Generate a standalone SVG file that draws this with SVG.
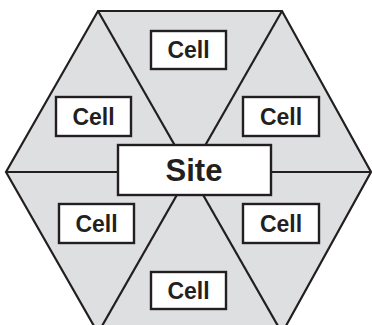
<svg xmlns="http://www.w3.org/2000/svg" width="372" height="325" viewBox="0 0 372 325">
<style>
.hex{fill:#dedfe1;stroke:#231f20;stroke-width:2.2;stroke-linejoin:miter}
.ln{stroke:#231f20;stroke-width:2.2;fill:none}
.box{fill:#fff;stroke:#231f20;stroke-width:2.4}
.t{font-family:"Liberation Sans",Arial,sans-serif;font-weight:bold;fill:#231f20;text-anchor:middle}
.c{font-size:23px}
.s{font-size:31px}
</style>
<rect width="372" height="325" fill="#fff"/>
<polygon class="hex" points="98,11 282,11 371,172 282,333 98,333 6,172"/>
<g id="connectors">
<line class="ln" x1="98" y1="11" x2="282" y2="333"/>
<line class="ln" x1="282" y1="11" x2="98" y2="333"/>
<line class="ln" x1="6" y1="172" x2="371" y2="172"/>
</g>
<g id="site"><rect class="box" x="118" y="145" width="153" height="50"/><text class="t s" x="194" y="181">Site</text></g>
<g id="cell-top"><rect class="box" x="151" y="31" width="75" height="38"/><text class="t c" x="188.5" y="58">Cell</text></g>
<g id="cell-top-left"><rect class="box" x="56" y="97" width="75" height="39"/><text class="t c" x="93.5" y="124.5">Cell</text></g>
<g id="cell-top-right"><rect class="box" x="243" y="97" width="76" height="39"/><text class="t c" x="281" y="124.5">Cell</text></g>
<g id="cell-bottom-left"><rect class="box" x="59" y="204" width="75" height="39"/><text class="t c" x="96.5" y="231.5">Cell</text></g>
<g id="cell-bottom-right"><rect class="box" x="243" y="204" width="76" height="39"/><text class="t c" x="281" y="231.5">Cell</text></g>
<g id="cell-bottom"><rect class="box" x="151" y="272" width="75" height="37"/><text class="t c" x="188.5" y="298.5">Cell</text></g>
</svg>
